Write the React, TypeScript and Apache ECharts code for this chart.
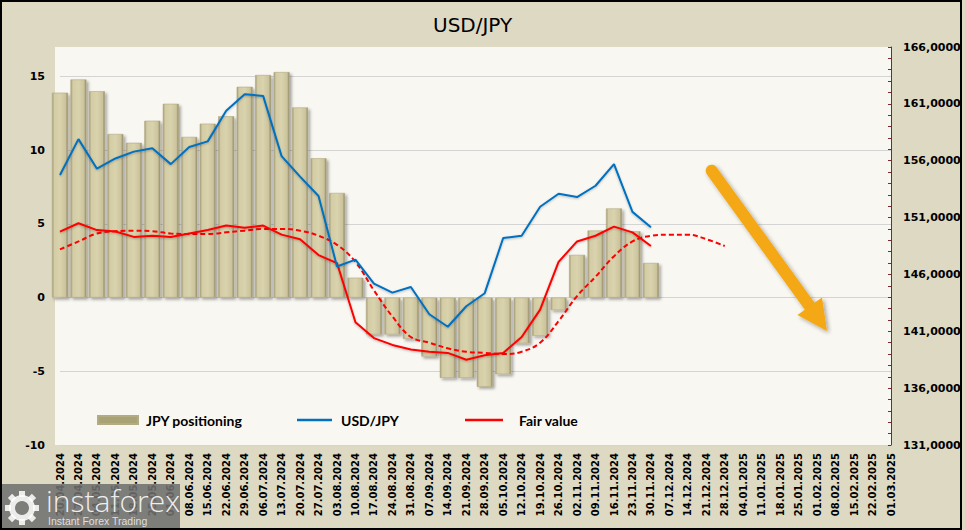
import React, { useEffect, useRef } from "react";
import * as echarts from "echarts";

const categories = [
  "20.04.2024", "27.04.2024", "04.05.2024", "11.05.2024", "18.05.2024", "25.05.2024",
  "01.06.2024", "08.06.2024", "15.06.2024", "22.06.2024", "29.06.2024", "06.07.2024",
  "13.07.2024", "20.07.2024", "27.07.2024", "03.08.2024", "10.08.2024", "17.08.2024",
  "24.08.2024", "31.08.2024", "07.09.2024", "14.09.2024", "21.09.2024", "28.09.2024",
  "05.10.2024", "12.10.2024", "19.10.2024", "26.10.2024", "02.11.2024", "09.11.2024",
  "16.11.2024", "23.11.2024", "30.11.2024", "07.12.2024", "14.12.2024", "21.12.2024",
  "28.12.2024", "04.01.2025", "11.01.2025", "18.01.2025", "25.01.2025", "01.02.2025",
  "08.02.2025", "15.02.2025", "22.02.2025", "01.03.2025",
];

const jpyPositioning = [
  13.9, 14.8, 14.0, 11.1, 10.5, 12.0, 13.15, 10.9, 11.8, 12.3, 14.3, 15.1, 15.3, 12.9,
  9.45, 7.1, 1.35, -2.5, -2.5, -2.8, -4.0, -5.45, -5.45, -6.05, -5.2, -3.1, -2.6, -0.85,
  2.9, 4.55, 6.05, 4.5, 2.35,
];

const usdJpy = [
  154.75, 157.9, 155.3, 156.2, 156.8, 157.1, 155.7, 157.2, 157.7, 160.4, 161.85, 161.7,
  156.4, 154.6, 152.9, 146.7, 147.3, 145.2, 144.4, 144.9, 142.5, 141.4, 143.2, 144.35,
  149.2, 149.4, 151.95, 153.1, 152.8, 153.8, 155.7, 151.5, 150.15,
];

const fairValue = [
  149.77, 150.5, 149.9, 149.77, 149.3, 149.4, 149.3, 149.6, 149.9, 150.3, 150.1, 150.3,
  149.5, 149.1, 147.7, 147.0, 141.8, 140.4, 139.8, 139.4, 139.2, 139.1, 138.5, 138.9,
  139.1, 140.5, 142.9, 147.1, 148.9, 149.4, 150.2, 149.7, 148.5,
];

const fairValueTrend = [
  148.2, 148.9, 149.6, 149.8, 149.85, 149.8, 149.6, 149.55, 149.55, 149.7, 149.85, 150.0,
  150.0, 149.85, 149.4, 148.6, 147.1, 144.6, 142.3, 140.5, 140.0, 139.5, 139.2, 139.1,
  139.0, 139.2, 140.0, 141.9, 144.1, 145.8, 147.6, 148.9, 149.4, 149.5, 149.5, 149.1, 148.5,
];

const leftTicks = { min: -10, max: 17, interval: 5 };
const rightTicks = { min: 131, max: 166, interval: 5 };

export default function App() {
  const ref = useRef<HTMLDivElement>(null);

  useEffect(() => {
    if (!ref.current) return;
    const chart = echarts.init(ref.current, null, { renderer: "svg" });

    const axisFont = "'DejaVu Sans', Verdana, sans-serif";
    const legendFont = "Lato, 'Liberation Sans', sans-serif";

    const barGradient = new echarts.graphic.LinearGradient(0, 0, 1, 0, [
      { offset: 0, color: "#a39b76" },
      { offset: 0.14, color: "#d3cca4" },
      { offset: 0.5, color: "#d9d3ae" },
      { offset: 0.86, color: "#cbc39b" },
      { offset: 1, color: "#8c8563" },
    ]);

    const gearTeeth: any[] = [];
    for (let k = 0; k < 8; k++) {
      gearTeeth.push({
        type: "rect",
        x: 22,
        y: 508,
        originX: 0,
        originY: 0,
        rotation: (k * Math.PI) / 4,
        silent: true,
        shape: { x: -3, y: -17, width: 6, height: 6 },
        style: { fill: "rgba(255,255,255,0.85)" },
        z: 101,
      });
    }

    const legendText = (pad: number) => ({
      fontFamily: legendFont,
      fontSize: 14,
      fontWeight: "bold",
      color: "#000",
      padding: [0, 0, 0, pad],
    });

    const option: any = {
      animation: false,
      backgroundColor: "#ddd9c3",
      title: {
        text: "USD/JPY",
        left: 428,
        top: 10,
        textStyle: {
          fontFamily: axisFont,
          fontSize: 20,
          fontWeight: "normal",
          color: "#000",
        },
      },
      grid: { left: 60, right: 74, top: 47, bottom: 85, containLabel: false },
      legend: [
        {
          data: [{ name: "JPY positioning", icon: "rect", itemStyle: { color: "#a8a275" } }],
          left: 92,
          top: 408,
          itemWidth: 40,
          itemHeight: 8,
          textStyle: legendText(3),
        },
        {
          data: [{ name: "USD/JPY", icon: "rect" }],
          left: 292,
          top: 408,
          itemWidth: 35,
          itemHeight: 2.5,
          textStyle: legendText(4),
        },
        {
          data: [{ name: "Fair value", icon: "rect" }],
          left: 460,
          top: 408,
          itemWidth: 38,
          itemHeight: 2.5,
          textStyle: legendText(11),
        },
      ],
      xAxis: {
        type: "category",
        data: categories,
        boundaryGap: false,
        axisLine: { show: false },
        axisTick: { show: false },
        axisLabel: {
          interval: 0,
          rotate: 90,
          margin: 8,
          fontFamily: axisFont,
          fontSize: 10,
          fontWeight: "bold",
          color: "#000",
        },
        splitLine: { show: false },
      },
      yAxis: [
        {
          type: "value",
          position: "left",
          min: leftTicks.min,
          max: leftTicks.max,
          interval: leftTicks.interval,
          axisLine: { show: false },
          axisTick: { show: false },
          axisLabel: {
            showMaxLabel: false,
            margin: 15,
            fontFamily: axisFont,
            fontSize: 11,
            fontWeight: "bold",
            color: "#000",
          },
          splitLine: {
            show: true,
            lineStyle: {
              width: 1,
              color: ["#d4d4d4", "#d4d4d4", "#d4d4d4", "#d4d4d4", "#d4d4d4", "#d4d4d4", "rgba(0,0,0,0)"],
            },
          },
        },
        {
          type: "value",
          position: "right",
          min: rightTicks.min,
          max: rightTicks.max,
          interval: rightTicks.interval,
          axisLine: { show: true, lineStyle: { color: "#7a2a2a", width: 1 } },
          axisTick: { show: true, inside: true, length: 3, lineStyle: { color: "#7a2a2a" } },
          minorTick: { show: true, splitNumber: 5, length: 3, lineStyle: { color: "#7a2a2a" } },
          splitLine: { show: false },
          axisLabel: {
            margin: 12,
            fontFamily: axisFont,
            fontSize: 11,
            fontWeight: "bold",
            color: "#000",
            formatter: (v: number) => v.toFixed(4).replace(".", ","),
          },
        },
      ],
      series: [
        {
          name: "JPY positioning",
          type: "bar",
          yAxisIndex: 0,
          data: jpyPositioning,
          barWidth: 16,
          clip: false,
          itemStyle: {
            color: barGradient,
            borderColor: "#b3ab83",
            borderWidth: 0.6,
            shadowColor: "rgba(0,0,0,0.35)",
            shadowBlur: 3,
            shadowOffsetX: 2,
            shadowOffsetY: 2,
          },
          z: 2,
        },
        {
          name: "Fair value trend",
          type: "line",
          yAxisIndex: 1,
          data: fairValueTrend,
          smooth: 0.4,
          showSymbol: false,
          symbol: "none",
          lineStyle: { color: "#ff0000", width: 2, type: [5, 3] },
          itemStyle: { color: "#ff0000" },
          z: 3,
        },
        {
          name: "Fair value",
          type: "line",
          yAxisIndex: 1,
          data: fairValue,
          showSymbol: false,
          symbol: "none",
          lineStyle: { color: "#ff0000", width: 2, shadowColor: "rgba(0,0,0,0.25)", shadowBlur: 2, shadowOffsetY: 1 },
          itemStyle: { color: "#ff0000" },
          z: 4,
        },
        {
          name: "USD/JPY",
          type: "line",
          yAxisIndex: 1,
          data: usdJpy,
          showSymbol: false,
          symbol: "none",
          lineStyle: { color: "#0070c0", width: 2, shadowColor: "rgba(0,0,0,0.25)", shadowBlur: 2, shadowOffsetY: 1 },
          itemStyle: { color: "#0070c0" },
          z: 5,
        },
      ],
      graphic: [
        {
          type: "rect",
          z: -10,
          silent: true,
          shape: { x: 55, y: 47, width: 836, height: 398 },
          style: { fill: "#f8f7f2" },
        },
        {
          type: "line",
          z: 50,
          silent: true,
          shape: { x1: 711.7, y1: 170.7, x2: 811, y2: 308 },
          style: {
            stroke: "#f5a814",
            lineWidth: 12,
            lineCap: "round",
            shadowColor: "rgba(0,0,0,0.35)",
            shadowBlur: 4,
            shadowOffsetX: 2,
            shadowOffsetY: 2,
          },
        },
        {
          type: "polygon",
          z: 51,
          silent: true,
          shape: { points: [[797.5, 315], [822, 297.5], [827, 331]] },
          style: {
            fill: "#f5a814",
            shadowColor: "rgba(0,0,0,0.35)",
            shadowBlur: 4,
            shadowOffsetX: 2,
            shadowOffsetY: 2,
          },
        },
        {
          type: "rect",
          z: 100,
          silent: true,
          shape: { x: 0, y: 484, width: 180, height: 46 },
          style: { fill: "rgba(112,112,112,0.88)" },
        },
        {
          type: "ring",
          z: 101,
          silent: true,
          shape: { cx: 22, cy: 508, r: 13, r0: 7 },
          style: { fill: "rgba(255,255,255,0.85)" },
        },
        ...gearTeeth,
        {
          type: "text",
          z: 101,
          silent: true,
          x: 46,
          y: 485,
          style: {
            text: "instaforex",
            fontFamily: "'Open Sans', Lato, sans-serif",
            fontSize: 30,
            fontWeight: 300,
            fill: "rgba(255,255,255,0.88)",
          },
        },
        {
          type: "text",
          z: 101,
          silent: true,
          x: 48,
          y: 515,
          style: {
            text: "Instant Forex Trading",
            fontFamily: "'Liberation Sans', Arial, sans-serif",
            fontSize: 10.5,
            fill: "rgba(235,235,235,0.9)",
          },
        },
        {
          type: "rect",
          z: 120,
          silent: true,
          shape: { x: 1, y: 1, width: 960, height: 528 },
          style: { fill: "none", stroke: "#000", lineWidth: 2 },
        },
      ],
    };

    chart.setOption(option);
    return () => {
      chart.dispose();
    };
  }, []);

  return (
    <div
      ref={ref}
      style={{ position: "absolute", left: 0, top: 0, width: 965, height: 530 }}
    />
  );
}
